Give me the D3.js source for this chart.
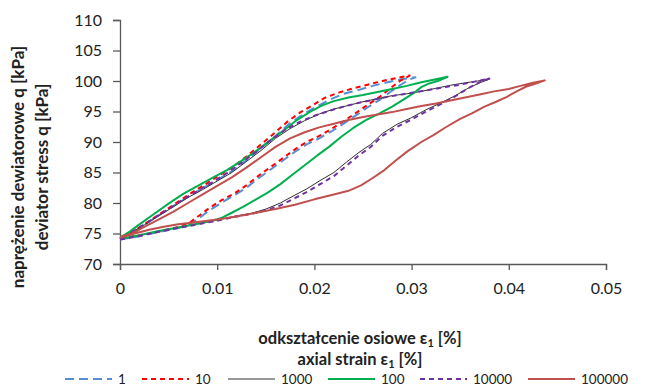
<!DOCTYPE html>
<html><head><meta charset="utf-8">
<script src="https://cdn.jsdelivr.net/npm/d3@7"></script>
<style>
body{margin:0;background:#fff;}
svg text{font-family:Lato,"Open Sans",sans-serif;fill:#222;}
</style></head>
<body><svg id="c" width="647" height="386"></svg>
<script>
// ---- data (strain [%], deviator stress q [kPa]) ----
const xTicks = [0, 0.01, 0.02, 0.03, 0.04, 0.05];
const yTicks = [70, 75, 80, 85, 90, 95, 100, 105, 110];
const seriesNames = ["1", "10", "1000", "100", "10000", "100000"];

const s1Load = [[0,74.0],[0.0015,74.4],[0.003,74.9],[0.0045,75.4],[0.006,75.9],[0.0072,76.5],[0.0082,77.6],[0.0092,78.8],[0.0105,80.1],[0.0118,81.3],[0.013,82.5],[0.0142,84.0],[0.0155,85.5],[0.0168,87.0],[0.018,88.4],[0.0192,89.6],[0.0205,90.6],[0.0218,91.8],[0.023,93.0],[0.0243,94.4],[0.0255,95.7],[0.0268,97.0],[0.0278,98.2],[0.0288,99.3],[0.0297,100.2],[0.0304,100.6]];
const s1Unload = [[0.0304,100.6],[0.029,100.3],[0.0275,99.8],[0.026,99.2],[0.0245,98.5],[0.023,97.9],[0.0215,96.9],[0.02,95.6],[0.0188,94.5],[0.0175,93.1],[0.016,91.0],[0.0145,89.0],[0.013,87.0],[0.0115,85.2],[0.01,83.8],[0.0085,82.4],[0.007,81.0],[0.0055,79.5],[0.004,78.0],[0.0025,76.4],[0.0012,75.0],[0,74.2]];

const s10Load = [[0,74.3],[0.0015,74.6],[0.003,75.0],[0.0045,75.5],[0.006,76.1],[0.0072,76.8],[0.0082,78.0],[0.0092,79.2],[0.0105,80.5],[0.0118,81.6],[0.013,82.9],[0.0142,84.4],[0.0155,85.9],[0.0168,87.4],[0.018,88.8],[0.0192,90.0],[0.0205,91.0],[0.0218,92.2],[0.023,93.4],[0.0243,94.8],[0.0255,96.1],[0.0268,97.5],[0.0278,98.8],[0.0288,100.0],[0.0298,100.9]];
const s10Unload = [[0.0298,100.9],[0.0285,100.5],[0.027,100.0],[0.0255,99.4],[0.024,98.8],[0.0225,98.1],[0.021,97.2],[0.0198,96.0],[0.0185,94.8],[0.0172,93.3],[0.016,91.6],[0.0145,89.6],[0.013,87.6],[0.0115,85.8],[0.01,84.3],[0.0085,82.8],[0.007,81.3],[0.0055,79.7],[0.004,78.1],[0.0025,76.5],[0.0012,75.2],[0,74.4]];

const s1000Load = [[0,74.1],[0.002,74.7],[0.004,75.4],[0.006,76.0],[0.008,76.6],[0.010,77.2],[0.012,77.9],[0.0135,78.3],[0.015,79.0],[0.0165,80.0],[0.018,81.3],[0.0192,82.3],[0.0205,83.6],[0.022,85.0],[0.0233,86.7],[0.0245,88.2],[0.0258,89.6],[0.027,91.4],[0.0285,92.9],[0.030,94.0],[0.0315,95.3],[0.033,96.4],[0.0345,97.6],[0.0358,98.8],[0.037,99.7],[0.038,100.3]];
const s1000Unload = [[0.038,100.3],[0.0368,100.0],[0.0355,99.7],[0.034,99.3],[0.0325,98.8],[0.031,98.3],[0.0295,97.9],[0.028,97.6],[0.0265,97.1],[0.025,96.6],[0.0235,96.0],[0.022,95.4],[0.0205,94.6],[0.019,93.5],[0.0175,92.2],[0.016,90.6],[0.0145,88.6],[0.013,86.8],[0.0115,85.0],[0.01,83.6],[0.0085,82.2],[0.007,80.9],[0.0055,79.4],[0.004,77.9],[0.0025,76.4],[0.0012,75.2],[0,74.2]];

const s100Load = [[0,74.1],[0.002,74.7],[0.004,75.4],[0.006,76.0],[0.008,76.6],[0.0095,77.1],[0.0105,77.6],[0.0115,78.4],[0.0127,79.4],[0.014,80.6],[0.0152,81.7],[0.0165,83.1],[0.0178,84.7],[0.019,86.2],[0.0203,87.8],[0.0215,89.2],[0.0228,90.9],[0.024,92.3],[0.0253,93.6],[0.0267,94.7],[0.028,95.8],[0.0292,97.0],[0.0302,98.0],[0.031,99.0],[0.0318,99.6],[0.0327,100.0],[0.0337,100.7]];
const s100Unload = [[0.0337,100.7],[0.0325,100.3],[0.031,99.8],[0.0295,99.2],[0.028,98.7],[0.0265,98.2],[0.025,97.7],[0.0235,97.3],[0.022,96.7],[0.0208,96.0],[0.0195,94.9],[0.0182,93.6],[0.017,92.1],[0.0155,90.3],[0.014,88.5],[0.0125,86.9],[0.011,85.4],[0.0095,84.1],[0.008,82.8],[0.0065,81.5],[0.005,79.9],[0.0035,78.2],[0.002,76.5],[0.001,75.3],[0,74.3]];

const s10000Load = [[0,74.0],[0.002,74.6],[0.004,75.3],[0.006,75.9],[0.008,76.5],[0.010,77.1],[0.012,77.8],[0.0135,78.2],[0.015,78.8],[0.0165,79.6],[0.018,80.8],[0.0192,81.8],[0.0205,83.0],[0.022,84.4],[0.0233,86.1],[0.0245,87.7],[0.0258,89.2],[0.027,91.0],[0.0285,92.5],[0.030,93.7],[0.0315,95.0],[0.033,96.2],[0.0345,97.5],[0.0358,98.8],[0.037,99.8],[0.038,100.4]];
const s10000Unload = [[0.038,100.4],[0.0365,99.9],[0.035,99.4],[0.0335,99.0],[0.032,98.6],[0.0305,98.2],[0.029,97.8],[0.0275,97.4],[0.026,96.9],[0.0245,96.4],[0.023,95.8],[0.0215,95.1],[0.02,94.3],[0.0185,93.3],[0.017,92.0],[0.0155,90.3],[0.014,88.4],[0.0125,86.6],[0.011,84.9],[0.0095,83.4],[0.008,82.0],[0.0065,80.6],[0.005,79.0],[0.0035,77.5],[0.002,76.0],[0.001,75.0],[0,74.1]];

const s100000Load = [[0,74.3],[0.0015,75.0],[0.003,75.6],[0.0045,76.1],[0.006,76.5],[0.008,76.9],[0.010,77.3],[0.012,77.8],[0.014,78.4],[0.016,79.0],[0.018,79.7],[0.020,80.6],[0.022,81.4],[0.0235,82.0],[0.0248,82.9],[0.026,84.1],[0.0272,85.4],[0.0284,87.0],[0.0296,88.5],[0.031,90.0],[0.0322,91.1],[0.0336,92.5],[0.035,93.8],[0.0362,94.7],[0.0375,95.8],[0.0387,96.6],[0.0398,97.4],[0.0408,98.3],[0.0418,99.1],[0.0428,99.6],[0.0437,100.1]];
const s100000Unload = [[0.0437,100.1],[0.0425,99.7],[0.0412,99.2],[0.04,98.7],[0.0385,98.3],[0.037,97.8],[0.0355,97.3],[0.034,96.8],[0.0325,96.3],[0.031,95.9],[0.0295,95.4],[0.028,94.9],[0.0265,94.5],[0.025,94.1],[0.0235,93.6],[0.022,93.0],[0.0205,92.4],[0.019,91.6],[0.0175,90.6],[0.016,89.2],[0.0145,87.5],[0.013,85.8],[0.0115,84.2],[0.01,82.8],[0.0085,81.4],[0.007,80.0],[0.0055,78.6],[0.004,77.3],[0.0025,76.1],[0.0012,75.0],[0,74.4]];

// ---- chart ----
const styles = {
  "1":      {color:"#558ED5", width:2, dash:"9,5"},
  "10":     {color:"#FF0000", width:2, dash:"5,4"},
  "1000":   {color:"#303030", width:1, dash:null},
  "100":    {color:"#00B050", width:2, dash:null},
  "10000":  {color:"#7030A0", width:2, dash:"5,4"},
  "100000": {color:"#C0504D", width:2, dash:null}
};
const loops = {
  "1": s1Load.concat(s1Unload),
  "10": s10Load.concat(s10Unload),
  "1000": s1000Load.concat(s1000Unload),
  "100": s100Load.concat(s100Unload),
  "10000": s10000Load.concat(s10000Unload),
  "100000": s100000Load.concat(s100000Unload)
};

const svg = d3.select("#c");
const m = {left:120, right:606, top:20, bottom:264};
const x = d3.scaleLinear().domain([0,0.05]).range([m.left, m.right]);
const y = d3.scaleLinear().domain([70,110]).range([m.bottom, m.top]);

// y axis
const ya = svg.append("g").attr("transform",`translate(${m.left},0)`)
  .call(d3.axisLeft(y).tickValues(yTicks).tickSize(7).tickPadding(11).tickFormat(d3.format("d")));
// x axis
const xa = svg.append("g").attr("transform",`translate(0,${m.bottom})`)
  .call(d3.axisBottom(x).tickValues(xTicks).tickSize(6).tickPadding(13).tickFormat(d => d===0 ? "0" : d3.format(".2f")(d)));
[ya, xa].forEach(g => {
  g.select(".domain").attr("stroke","#595959").attr("stroke-width",1.3);
  g.selectAll(".tick line").attr("stroke","#595959").attr("stroke-width",1.3);
  g.selectAll(".tick text").attr("font-size",16).attr("fill","#333").style("font-family","Lato");
});

// lines
const line = d3.line().x(d => x(d[0])).y(d => y(d[1]));
seriesNames.forEach(n => {
  const st = styles[n];
  svg.append("path").datum(loops[n])
    .attr("d", line).attr("fill","none")
    .attr("stroke", st.color).attr("stroke-width", st.width)
    .attr("stroke-linejoin","round")
    .attr("stroke-dasharray", st.dash);
});

// axis titles
const yt = svg.append("g").attr("transform","translate(0,167) rotate(-90)");
yt.append("text").attr("x",0).attr("y",24).attr("text-anchor","middle")
  .attr("font-size",17).attr("font-weight","bold").text("naprężenie dewiatorowe q [kPa]");
yt.append("text").attr("x",0).attr("y",48).attr("text-anchor","middle")
  .attr("font-size",17).attr("font-weight","bold").text("deviator stress q [kPa]");

function epsTitle(yPos, pre){
  const t = svg.append("text").attr("x",360).attr("y",yPos).attr("text-anchor","middle")
    .attr("font-size",16.5).attr("font-weight","bold");
  t.append("tspan").text(pre + "ε");
  t.append("tspan").attr("font-size",11).attr("dy",3).text("1");
  t.append("tspan").attr("dy",-3).text(" [%]");
}
epsTitle(344, "odkształcenie osiowe ");
epsTitle(365, "axial strain ");

// legend
const legendX = [65, 142, 228, 328, 420, 528];
const ly = 379;
seriesNames.forEach((n, i) => {
  const st = styles[n];
  const lx = legendX[i];
  svg.append("line").attr("x1",lx).attr("x2",lx+47).attr("y1",ly).attr("y2",ly)
    .attr("stroke",st.color).attr("stroke-width",st.width).attr("stroke-dasharray",st.dash);
  svg.append("text").attr("x",lx+53).attr("y",ly+5).attr("font-size",13.5).attr("fill","#333").text(n);
});
</script></body></html>
